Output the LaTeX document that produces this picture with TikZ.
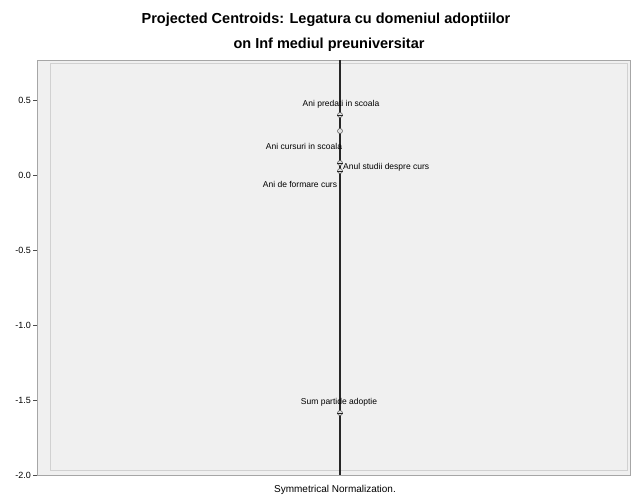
\documentclass[tikz,border=0pt]{standalone}
\usepackage{fontspec}
\setmainfont{Liberation Sans}
\begin{document}
\begin{tikzpicture}[x=1pt,y=-1pt,
  titlefont/.style={font=\fontsize{14.5}{16}\selectfont\bfseries},
  ticklab/.style={font=\fontsize{9}{10}\selectfont,anchor=east,inner sep=0pt},
  ptlab/.style={font=\fontsize{8.5}{10}\selectfont,inner sep=0pt},
  pt/.style={circle,draw=gray!70!black,fill=gray!25,minimum size=5pt,inner sep=0pt,line width=0.5pt},
  tick/.style={draw=gray!60!black,line width=0.6pt}]
\useasboundingbox (0,0) rectangle (632,501);
% title
\node[titlefont] (t1) at (326,20) {Projected Centroids: Legatura cu domeniul adoptiilor};
\node[titlefont] (t2) at (329,45) {on Inf mediul preuniversitar};
% plot area
\fill[black!6] (37,60) rectangle (630,475);
\draw[black!18,line width=0.8pt] (50,63) rectangle (627,470);
\draw[black!35,line width=0.8pt] (37,60) rectangle (630,475);
% ticks
\foreach \yy/\lab in {100/0.5,175/0.0,250/-0.5,325/-1.0,400/-1.5,475/-2.0}{
  \draw[tick] (33,\yy) -- (37,\yy);
  \node[ticklab] at (31,\yy) {\lab};
}
% axis line
\coordinate (vtop) at (340,60);
\coordinate (vbot) at (340,475);
\draw[black!85,line width=1.6pt] (vtop) -- (vbot);
% points
\node[pt] (p1) at (340,115) {};
\node[pt] (p2) at (340,131) {};
\node[pt] (p3) at (340,163) {};
\node[pt] (p4) at (340,171) {};
\node[pt] (p5) at (340,413) {};
\draw[black!85,line width=0.6pt] (337,115) -- (343,115) (337,163) -- (343,163) (337,171) -- (343,171) (337,413) -- (343,413);
% labels
\node[ptlab] (l1) at (341,104) {Ani predati in scoala};
\node[ptlab] (l2) at (304,146) {Ani cursuri in scoala};
\node[ptlab,anchor=west] (l3) at (343,167) {Anul studii despre curs};
\node[ptlab] (l4) at (300,184) {Ani de formare curs};
\node[ptlab] (l5) at (339,402) {Sum partide adoptie};
% footer
\node[font=\fontsize{10}{12}\selectfont] (ft) at (335,490) {Symmetrical Normalization.};
\end{tikzpicture}
\end{document}
